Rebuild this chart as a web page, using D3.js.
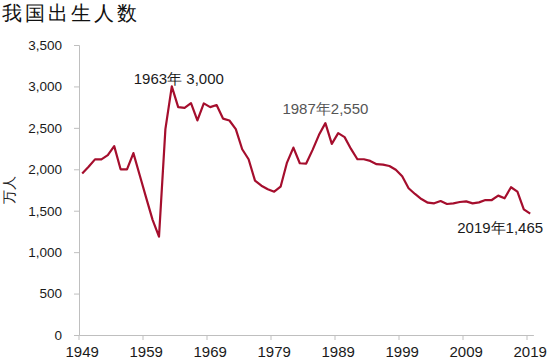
<!DOCTYPE html>
<html>
<head>
<meta charset="utf-8">
<script src="https://cdn.jsdelivr.net/npm/d3@7"></script>
<style>
  body { margin: 0; background: #fff; }
  svg text { font-family: "Liberation Sans", Arial, sans-serif; }
</style>
</head>
<body>
<div id="chart"></div>
<script>
const width = 550;
const height = 363;

// births, 10k persons, 1949-2019
const years = d3.range(1949, 2020);
const births = [
  1950, 2030, 2120, 2120, 2170, 2280, 2000, 2000, 2195, 1925,
  1655, 1390, 1186, 2485, 3000, 2750, 2742, 2799, 2590, 2795,
  2750, 2775, 2612, 2589, 2484, 2242, 2121, 1863, 1802, 1759,
  1730, 1790, 2081, 2262, 2073, 2069, 2234, 2416, 2557, 2307,
  2436, 2388, 2246, 2121, 2121, 2101, 2062, 2057, 2040, 1995,
  1915, 1771, 1702, 1641, 1597, 1589, 1617, 1581, 1589, 1605,
  1613, 1589, 1601, 1629, 1629, 1682, 1650, 1783, 1730, 1517,
  1465
];
const xTicks = [1949, 1959, 1969, 1979, 1989, 1999, 2009, 2019];
const yTicks = [0, 500, 1000, 1500, 2000, 2500, 3000, 3500];
const notes = [
  { year: 1963, text: '1963年 3,000', color: '#1a1a1a' },
  { year: 1987, text: '1987年2,550', color: '#555' },
  { year: 2019, text: '2019年1,465', color: '#1a1a1a' }
];

const margin = { top: 45, right: 16, bottom: 28, left: 79 };

const svg = d3.select('#chart').append('svg')
  .attr('width', width)
  .attr('height', height);

const x = d3.scaleBand()
  .domain(years)
  .range([margin.left, margin.left + years.length * 6.4])
  .padding(0);

const y = d3.scaleLinear()
  .domain([0, 3500])
  .range([335, margin.top]);

const cx = d => x(d) + x.bandwidth() / 2;

// title
svg.append('text')
  .attr('x', 2)
  .attr('y', 20)
  .attr('font-family', '"Noto Sans CJK SC", sans-serif')
  .attr('font-size', 20)
  .attr('letter-spacing', 3)
  .attr('fill', '#111')
  .text('我国出生人数');

// y axis
const yaxis = svg.append('g')
  .attr('transform', 'translate(' + margin.left + ',0)')
  .call(d3.axisLeft(y).tickValues(yTicks).tickSize(5).tickPadding(12).tickFormat(d3.format(',')));
yaxis.select('.domain').attr('stroke', '#bfbfbf');
yaxis.selectAll('.tick line').attr('stroke', '#bfbfbf');
yaxis.selectAll('.tick text').attr('font-size', 13.5).attr('fill', '#1a1a1a');

svg.append('text')
  .attr('transform', 'translate(14,190) rotate(-90)')
  .attr('text-anchor', 'middle')
  .attr('font-family', '"Noto Sans CJK SC", sans-serif')
  .attr('font-size', 13.5)
  .attr('fill', '#222')
  .text('万人');

// x axis: ticks at band edges, labels at band centres
const xaxis = svg.append('g')
  .attr('transform', 'translate(0,' + y(0) + ')')
  .call(d3.axisBottom(x).tickValues(xTicks).tickSize(5).tickPadding(6).tickSizeOuter(0));
xaxis.select('.domain').attr('stroke', '#bfbfbf');
xaxis.selectAll('.tick line')
  .attr('stroke', '#bfbfbf')
  .attr('x1', -x.bandwidth() / 2)
  .attr('x2', -x.bandwidth() / 2);
xaxis.selectAll('.tick text').attr('font-size', 15).attr('fill', '#1a1a1a');

// line
const line = d3.line()
  .x((d, i) => cx(years[i]))
  .y(d => y(d));

svg.append('path')
  .datum(births)
  .attr('d', line)
  .attr('fill', 'none')
  .attr('stroke', '#a50e2d')
  .attr('stroke-width', 2.2)
  .attr('stroke-linejoin', 'round');

// annotations
const noteOffset = { 1963: [7, -2], 1987: [0, -9], 2019: [-30, 19] };
notes.forEach(n => {
  const v = births[years.indexOf(n.year)];
  const off = noteOffset[n.year];
  svg.append('text')
    .attr('x', cx(n.year) + off[0])
    .attr('y', y(v) + off[1])
    .attr('text-anchor', 'middle')
    .attr('font-size', 15)
    .attr('fill', n.color)
    .text(n.text);
});
</script>
</body>
</html>
